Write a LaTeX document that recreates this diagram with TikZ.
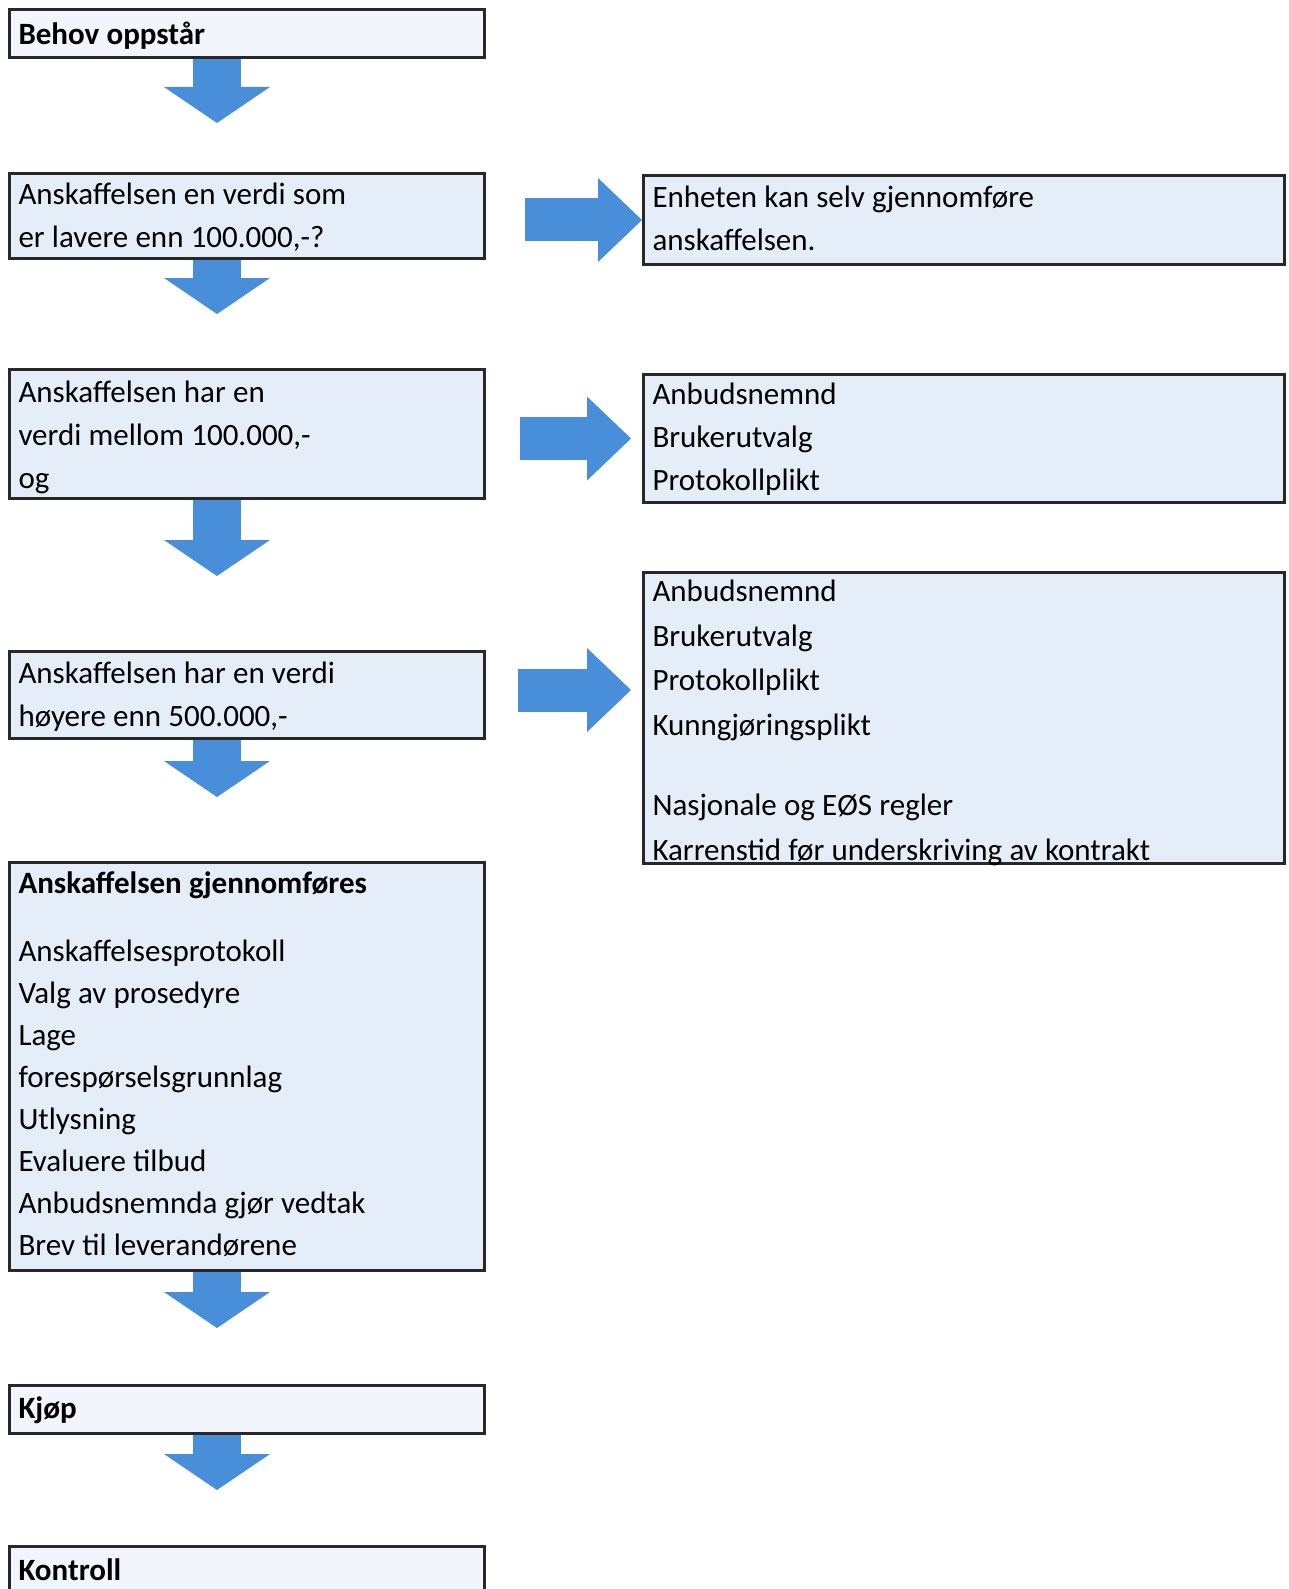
\documentclass[tikz,border=0pt]{standalone}
\usepackage{fontspec}
\setmainfont{Carlito}
\usetikzlibrary{arrows.meta}
\definecolor{boxfill}{RGB}{228,237,248}
\definecolor{boxpale}{RGB}{242,246,252}
\definecolor{boxline}{RGB}{40,40,40}
\definecolor{flowblue}{RGB}{72,142,216}
\tikzset{
  box/.style={draw=boxline, line width=1.5pt, fill=boxfill, anchor=north west, align=left,
    inner xsep=4.5pt, inner ysep=0pt, font=\fontsize{15.5}{21.5}\selectfont,
    execute at begin node={\spaceskip=3.6pt plus 1pt minus 0.5pt\relax}},
  lbox/.style={box, text width=228.5pt},
  rbox/.style={box, text width=311.5pt},
  pale/.style={fill=boxpale},
  downflow/.style={draw=flowblue, line width=24pt, -{Triangle[width=53pt, length=18pt, line width=0pt]}},
  sideflow/.style={draw=flowblue, line width=21.5pt, -{Triangle[width=42pt, length=22pt, line width=0pt]}},
}

\begin{document}
\begin{tikzpicture}[x=1pt, y=-1pt]
    \useasboundingbox (0,0) rectangle (644.5,794.5);
    \fill[white] (0,0) rectangle (644.5,794.5);
    % left column
    \node[lbox, pale, text height=17.5pt, text depth=6.5pt] (behov) at (4,4) {\textbf{Behov oppstår}};
    \node[lbox, text height=15.5pt, text depth=27pt] (lav) at (4,86) {Anskaffelsen en verdi som\\er lavere enn 100.000,-?};
    \node[lbox, text height=16.5pt, text depth=48pt] (mellom) at (4,184) {Anskaffelsen har en\\verdi mellom 100.000,-\\og};
    \node[lbox, text height=16pt, text depth=27.5pt] (hoy) at (4,325) {Anskaffelsen har en verdi\\høyere enn 500.000,-};
    \node[lbox, text height=15.5pt, text depth=188.5pt, font=\fontsize{15.5}{21}\selectfont] (gjennomf) at (4,430.5)
      {\textbf{Anskaffelsen gjennomføres}\\[13pt]Anskaffelsesprotokoll\\Valg av prosedyre\\Lage\\forespørselsgrunnlag\\Utlysning\\Evaluere tilbud\\Anbudsnemnda gjør vedtak\\Brev til leverandørene};
    \node[lbox, pale, text height=16.5pt, text depth=7.5pt] (kjop) at (4,692) {\textbf{Kjøp}};
    \node[lbox, pale, text height=17pt, text depth=7pt] (kontroll) at (4,772.5) {\textbf{Kontroll}};
    % right column
    \node[rbox, text height=16pt, text depth=28.5pt] (selv) at (321,87) {Enheten kan selv gjennomføre\\anskaffelsen.};
    \node[rbox, text height=15pt, text depth=49pt] (nemnd) at (321,186.5) {Anbudsnemnd\\Brukerutvalg\\Protokollplikt};
    \node[rbox, text height=14.5pt, text depth=131pt, font=\fontsize{15.5}{22.25}\selectfont] (eos) at (321,285.5)
      {Anbudsnemnd\\Brukerutvalg\\Protokollplikt\\Kunngjøringsplikt\\[18pt]Nasjonale og EØS regler\\Karrenstid før underskriving av kontrakt};
    % arrows down
    \draw[downflow, shorten >=24.5pt] ([xshift=-15pt]behov.south) -- ([xshift=-15pt]lav.north);
    \draw[downflow, shorten >=27pt] ([xshift=-15pt]lav.south) -- ([xshift=-15pt]mellom.north);
    \draw[downflow, shorten >=37pt] ([xshift=-15pt]mellom.south) -- ([xshift=-15pt]hoy.north);
    \draw[downflow, shorten >=32pt] ([xshift=-15pt]hoy.south) -- ([xshift=-15pt]gjennomf.north);
    \draw[downflow, shorten >=28pt] ([xshift=-15pt]gjennomf.south) -- ([xshift=-15pt]kjop.north);
    \draw[downflow, shorten >=27.5pt] ([xshift=-15pt]kjop.south) -- ([xshift=-15pt]kontroll.north);
    % arrows right
    \draw[sideflow, shorten <=19.5pt] (lav.east |- selv.west) -- (selv.west);
    \draw[sideflow, shorten <=17pt, shorten >=5.5pt] (mellom.east |- nemnd.west) -- (nemnd.west);
    \draw[sideflow, shorten <=16pt, shorten >=5.5pt] ([yshift=2.5pt]hoy.east) -- ([yshift=2.5pt]hoy.east -| eos.west);
\end{tikzpicture}
\end{document}
